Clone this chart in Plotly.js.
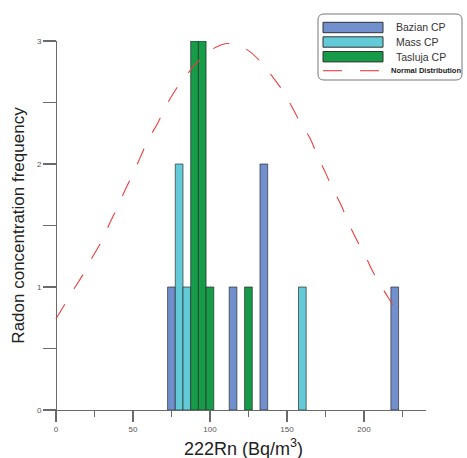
<!DOCTYPE html>
<html>
<head>
<meta charset="utf-8">
<script src="https://cdn.plot.ly/plotly-3.0.1.min.js"></script>
<style>html,body{margin:0;padding:0;background:#fff;}#chart{width:467px;height:458px;}</style>
</head>
<body>
<div id="chart"></div>
<script>
// Histogram bins (centre of 5-unit bins, Bq/m3) and frequencies
const bazianX = [75, 115, 135, 220];
const bazianY = [1, 1, 2, 1];
const massX = [80, 85, 160];
const massY = [2, 1, 1];
const taslujaX = [90, 95, 100, 125];
const taslujaY = [3, 3, 1, 1];
// Normal distribution curve
const normX = [0, 12, 18, 24, 30, 35, 40, 45, 50, 55, 60, 66, 71, 77, 84, 92, 101, 112, 124, 133, 140, 147, 153, 159, 165, 170, 175, 180, 185, 190, 195, 201, 206, 212, 218, 225];
const normY = [0.74, 0.99, 1.11, 1.25, 1.38, 1.52, 1.65, 1.79, 1.92, 2.06, 2.20, 2.33, 2.46, 2.59, 2.71, 2.83, 2.93, 2.98, 2.93, 2.83, 2.72, 2.60, 2.47, 2.33, 2.21, 2.06, 1.93, 1.79, 1.67, 1.52, 1.39, 1.25, 1.12, 0.99, 0.87, 0.73];
const seriesNames = ['Bazian CP', 'Mass CP', 'Tasluja CP', 'Normal Distribution'];
const xTicks = [0, 50, 100, 150, 200];
const yTicks = [0, 1, 2, 3];
const xTitle = '222Rn (Bq/m<sup>3</sup>)';
const yTitle = 'Radon concentration frequency';

const colors = ['rgb(112,143,204)', 'rgb(99,202,216)', 'rgb(22,155,72)', 'rgb(236,62,62)'];
const FONT = 'Liberation Sans, Arial, sans-serif';
const L = 43, R = 41, T = 41, B = 48, WIN = 467, HIN = 458;
const W = WIN - L - R, H = HIN - T - B;
const px = x => (x - L) / W;
const py = y => (T + H - y) / H;

function bar(x, y, name, c) {
  return {type: 'bar', x: x, y: y, name: name, width: 5,
    marker: {color: c, line: {color: 'rgba(40,40,40,0.85)', width: 0.8}},
    showlegend: false, hoverinfo: 'x+y'};
}
const data = [
  bar(bazianX, bazianY, seriesNames[0], colors[0]),
  bar(massX, massY, seriesNames[1], colors[1]),
  bar(taslujaX, taslujaY, seriesNames[2], colors[2]),
  {type: 'scatter', mode: 'lines', x: normX, y: normY, name: seriesNames[3],
   line: {color: colors[3], width: 1.1, dash: '17px,18px', shape: 'spline'}, showlegend: false}
];

// custom legend
const shapes = [];
const annotations = [];
const bx0 = 318, bx1 = 462, by0 = 14, by1 = 80, r = 6;
const rx = r / W, ry = r / H;
const X0 = px(bx0), X1 = px(bx1), Y0 = py(by0), Y1 = py(by1);
shapes.push({type: 'path', xref: 'paper', yref: 'paper',
  path: `M ${X0 + rx} ${Y0} L ${X1 - rx} ${Y0} Q ${X1} ${Y0} ${X1} ${Y0 - ry} L ${X1} ${Y1 + ry} Q ${X1} ${Y1} ${X1 - rx} ${Y1} L ${X0 + rx} ${Y1} Q ${X0} ${Y1} ${X0} ${Y1 + ry} L ${X0} ${Y0 - ry} Q ${X0} ${Y0} ${X0 + rx} ${Y0} Z`,
  line: {color: '#777', width: 1}, fillcolor: '#fff', layer: 'above'});
const rowsY = [27.5, 42, 56.7];
for (let i = 0; i < 3; i++) {
  shapes.push({type: 'rect', xref: 'paper', yref: 'paper', x0: px(323), x1: px(383), y0: py(rowsY[i] - 5.2), y1: py(rowsY[i] + 5.2),
    fillcolor: colors[i], line: {color: '#333', width: 1}, layer: 'above'});
  annotations.push({xref: 'paper', yref: 'paper', x: px(394), y: py(rowsY[i]), xanchor: 'left', yanchor: 'middle',
    text: seriesNames[i], showarrow: false, font: {family: FONT, size: 10.5, color: '#333'}});
}
const ly = 70.7;
shapes.push({type: 'line', xref: 'paper', yref: 'paper', x0: px(323), x1: px(342), y0: py(ly), y1: py(ly), line: {color: colors[3], width: 1.1}, layer: 'above'});
shapes.push({type: 'line', xref: 'paper', yref: 'paper', x0: px(360), x1: px(379), y0: py(ly), y1: py(ly), line: {color: colors[3], width: 1.1}, layer: 'above'});
annotations.push({xref: 'paper', yref: 'paper', x: px(389), y: py(ly), xanchor: 'left', yanchor: 'middle',
  text: '<b>' + seriesNames[3] + '</b>', showarrow: false, font: {family: FONT, size: 7.5, color: '#222'}});
// x-axis title placed where the reference shows it
annotations.push({xref: 'paper', yref: 'paper', x: px(243), y: py(447), xanchor: 'center', yanchor: 'middle',
  text: xTitle, showarrow: false, font: {family: FONT, size: 18, color: '#222'}});
// y-axis line continues a little below zero
shapes.push({type: 'line', xref: 'paper', yref: 'paper', x0: px(56), x1: px(56), y0: 0, y1: py(422), line: {color: '#6a6a6a', width: 1.3}});

const layout = {
  width: WIN, height: HIN,
  margin: {l: L, r: R, t: T, b: B, pad: 0},
  paper_bgcolor: '#fff', plot_bgcolor: '#fff',
  barmode: 'overlay', showlegend: false,
  font: {family: FONT, color: '#333'},
  xaxis: {range: [-8.4, 240.3], tickvals: xTicks, ticks: 'outside', ticklen: 11, tickwidth: 1.3, tickcolor: '#6a6a6a',
    showline: true, linecolor: '#6a6a6a', linewidth: 1.3, showgrid: false, zeroline: false,
    tickfont: {family: FONT, size: 8, color: '#555'},
    minor: {dtick: 25, tick0: 0, ticks: 'outside', ticklen: 6, tickwidth: 1.3, tickcolor: '#6a6a6a', showgrid: false},
    automargin: false},
  yaxis: {range: [0, 3], anchor: 'free', position: px(56), tickvals: yTicks, ticks: 'outside', ticklen: 13, tickwidth: 1.3, tickcolor: '#6a6a6a',
    showline: true, linecolor: '#6a6a6a', linewidth: 1.3, showgrid: false, zeroline: false,
    tickfont: {family: FONT, size: 8, color: '#555'},
    minor: {dtick: 0.5, tick0: 0, ticks: 'outside', ticklen: 13, tickwidth: 1.3, tickcolor: '#6a6a6a', showgrid: false},
    title: {text: yTitle, font: {family: FONT, size: 17, color: '#222'}, standoff: 6},
    automargin: false},
  shapes: shapes,
  annotations: annotations
};
Plotly.newPlot('chart', data, layout, {displayModeBar: false, staticPlot: true});
</script>
</body>
</html>
